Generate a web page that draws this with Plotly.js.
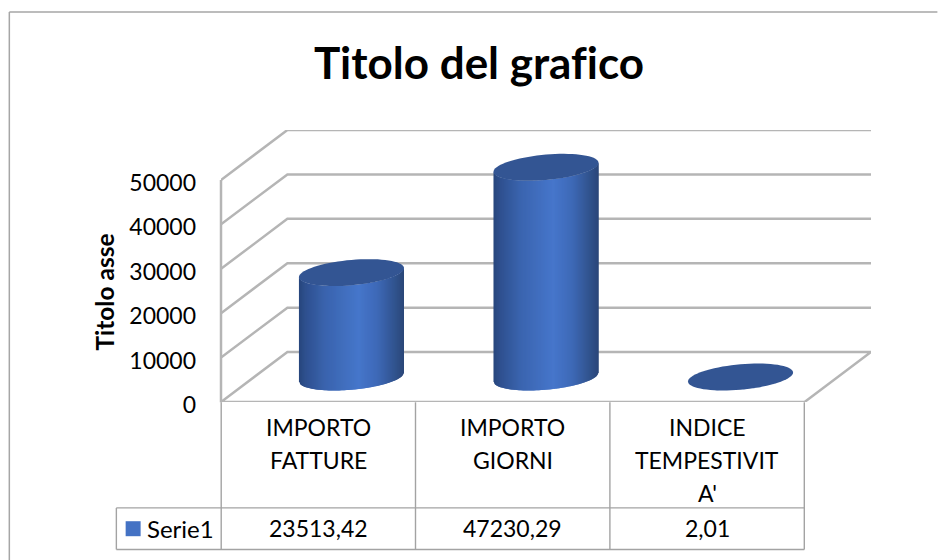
<!DOCTYPE html>
<html>
<head>
<meta charset="utf-8">
<script src="https://cdn.plot.ly/plotly-3.0.1.min.js"></script>
<style>html,body{margin:0;padding:0;background:#fff}#c{width:938px;height:560px}text{font-variant-ligatures:none !important;font-feature-settings:"liga" 0,"clig" 0 !important}</style>
</head>
<body>
<div id="c"></div>
<script>
const categoryLines = [['IMPORTO','FATTURE'],['IMPORTO','GIORNI'],['INDICE','TEMPESTIVIT',"A'"]];
const categoryNames = ['IMPORTO FATTURE','IMPORTO GIORNI',"INDICE TEMPESTIVITA'"];
const values = [23513.42, 47230.29, 2.01];
const valueLabels = ['23513,42','47230,29','2,01'];
const seriesName = 'Serie1';
const yTicks = [0,10000,20000,30000,40000,50000];

const W=938,H=560,L=220.5,R=871.5,T=129.5,B=401.7;
const FONT='Lato, "Open Sans", sans-serif';
const catPx=(805-220.5)/3, valPx=(B-179.5)/50000;
const DX=66.5/catPx, DY=50/valPx;
const xMin=-0.5, xMax=2.5+DX, yMax=50000+DY;
const pxX=p=>(p-L)/(R-L);
const pxY=p=>(B-p)/(B-T);
const GRID='#b5b5b5', TBL='#a3a3a3';
const traces=[];
function line(xs,ys,color,width){traces.push({type:'scatter',mode:'lines',x:xs,y:ys,line:{color:color,width:width},hoverinfo:'skip',showlegend:false,cliponaxis:false});}
yTicks.forEach(v=>{
  if(v===0){line([xMin,xMin+DX,xMax,xMax-DX,xMin],[0,DY,DY,0,0],GRID,2.5);}
  else line([xMin,xMin+DX,xMax],[v,v+DY,v+DY],GRID,2.5);
});

const stops=[[0,[39,70,124]],[.07,[47,81,144]],[.25,[58,100,174]],[.57,[70,118,203]],[.75,[62,105,183]],[.9,[50,85,145]],[1,[43,70,120]]];
function shade(t){for(let i=1;i<stops.length;i++){if(t<=stops[i][0]){const a=stops[i-1],b=stops[i],f=(t-a[0])/(b[0]-a[0]);return 'rgb('+a[1].map((c,k)=>Math.round(c+(b[1][k]-c)*f)).join(',')+')';}}}
const A=0.27, Bv=12.7/valPx, S=4.5/valPx, N=105;
values.forEach((v,i)=>{
  const cx=i+DX/2, base=DY/2;
  const edge=u=>base+S*u-Bv*Math.sqrt(Math.max(0,1-u*u));
  for(let k=0;k<N;k++){
    const u0=-1+2*k/N,u1=Math.min(1,-1+2*(k+2)/N),um=-1+2*(k+.5)/N;
    const col=shade((um+1)/2);
    traces.push({type:'scatter',mode:'none',fill:'toself',fillcolor:col,
      x:[cx+A*u0,cx+A*u1,cx+A*u1,cx+A*u0,cx+A*u0],
      y:[edge(u0),edge(u1),edge(u1)+v,edge(u0)+v,edge(u0)],
      hoverinfo:'skip',showlegend:false,cliponaxis:false});
  }
  const ex=[],ey=[];
  for(let k=0;k<=72;k++){const th=k/72*2*Math.PI;ex.push(cx+A*Math.cos(th));ey.push(base+v+Bv*Math.sin(th)+S*Math.cos(th));}
  traces.push({type:'scatter',mode:'none',fill:'toself',fillcolor:'#335593',x:ex,y:ey,name:categoryNames[i],hoverinfo:'skip',showlegend:false,cliponaxis:false});
});

const annotations=[], shapes=[];
const txt=(text,px,py,size,extra)=>annotations.push(Object.assign({text:text,x:pxX(px),xref:'paper',y:pxY(py),yref:'paper',showarrow:false,xanchor:'center',yanchor:'middle',font:{family:FONT,size:size,color:'#000'}},extra||{}));
const catCenter=i=>L+(i+.5)*catPx;
categoryLines.forEach((ls,i)=>ls.forEach((s,j)=>txt(s,catCenter(i),427+j*32.7,23)));
valueLabels.forEach((s,i)=>txt(s,catCenter(i),528,23));
txt(seriesName,180,528,24);
txt('Titolo asse',103.5,292,24.5,{textangle:-90,font:{family:FONT,size:24.5,color:'#000',weight:700}});

function seg(x0,y0,x1,y1,c,w){shapes.push({type:'line',xref:'paper',yref:'paper',x0:pxX(x0),x1:pxX(x1),y0:pxY(y0),y1:pxY(y1),line:{color:c,width:w},layer:'below'});}
seg(8.5,11.5,938,11.5,'#a6a6a6',1.5);
seg(8.5,11.5,8.5,560,'#a6a6a6',1.5);
seg(220.5,179.5,220.5,402,GRID,2.5);
[220.7,415.3,610,804.7].forEach(x=>seg(x,402,x,549.3,TBL,1.4));
seg(115.7,507.7,804.7,507.7,TBL,1.4);
seg(115.7,549.3,804.7,549.3,TBL,1.4);
seg(115.7,507.7,115.7,549.3,TBL,1.4);
shapes.push({type:'rect',xref:'paper',yref:'paper',x0:pxX(125),x1:pxX(140),y0:pxY(536),y1:pxY(521),fillcolor:'#4472c4',line:{width:0},layer:'above'});

Plotly.newPlot('c',traces,{
  width:W,height:H,
  paper_bgcolor:'#fff',plot_bgcolor:'rgba(0,0,0,0)',showlegend:false,
  margin:{l:L,r:W-R,t:T,b:H-B,pad:0},
  title:{text:'Titolo del grafico',x:479/W,xanchor:'center',y:1-64/H,yanchor:'middle',font:{family:FONT,size:44,color:'#000',weight:700}},
  xaxis:{range:[xMin,xMax],showgrid:false,zeroline:false,showline:false,showticklabels:false,ticks:'',fixedrange:true},
  yaxis:{range:[0,yMax],tickvals:yTicks,ticktext:yTicks.map(String),showgrid:false,zeroline:false,showline:false,ticks:'',ticklabelstandoff:24,ticklabelshift:3,tickfont:{family:FONT,size:23,color:'#000'},fixedrange:true},
  annotations:annotations,shapes:shapes
},{displayModeBar:false,staticPlot:true});
</script>
</body>
</html>
